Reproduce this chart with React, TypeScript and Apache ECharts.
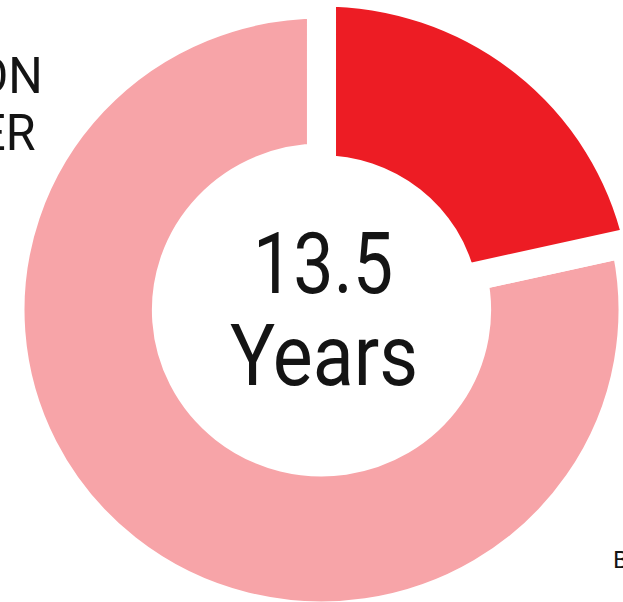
import React, { useEffect, useRef } from "react";
import * as echarts from "echarts";

const categories = ["Highlighted", "Remainder"];
const values = [21.5, 78.5];
const colors = ["#ED1C24", "#F7A4A8"];
const centerLines = ["13.5", "Years"];
const leftFragments = ["ON", "ER"];
const cornerFragment = "B";

const FONT = 'Roboto, "Liberation Sans", sans-serif';

export default function App() {
  const ref = useRef<HTMLDivElement>(null);
  useEffect(() => {
    if (!ref.current) return;
    const chart = echarts.init(ref.current, undefined, { renderer: "svg" });
    const cx = 321.5;
    const cy = 310;
    const gap = 28.5;
    const transparent = "rgba(0,0,0,0)";
    const mkData = (visibleIdx: number) =>
      categories.map((name, i) => ({
        name,
        value: values[i],
        itemStyle:
          i === visibleIdx
            ? { color: colors[i], borderColor: "#ffffff", borderWidth: gap }
            : { color: transparent, borderWidth: 0 },
      }));
    const txt = (text: string, x: number, y: number, size: number, align: string, sx = 1) => ({
      type: "text",
      x,
      y,
      scaleX: sx,
      style: { text, fontSize: size, fontFamily: FONT, fontWeight: 400, fill: "#141414", align, verticalAlign: "middle" },
    });
    chart.setOption({
      animation: false,
      backgroundColor: "#ffffff",
      series: [
        {
          type: "pie",
          center: [cx, cy],
          radius: [152.2, 305.7],
          startAngle: 90,
          clockwise: true,
          silent: true,
          label: { show: false },
          labelLine: { show: false },
          emphasis: { disabled: true },
          data: mkData(1),
        },
        {
          type: "pie",
          center: [cx, cy],
          radius: [140.6, 317.8],
          startAngle: 90,
          clockwise: true,
          silent: true,
          label: { show: false },
          labelLine: { show: false },
          emphasis: { disabled: true },
          data: mkData(0),
        },
      ],
      graphic: [
        txt(centerLines[0], cx + 1.5, 263.6, 86, "center", 0.82),
        txt(centerLines[1], cx + 2.5, 355.6, 86, "center", 0.86),
        txt(leftFragments[0], 48, 75.6, 50, "right", 0.95),
        txt(leftFragments[1], 41, 132.9, 50, "right", 0.95),
        txt(cornerFragment, 607.5, 560, 24, "left"),
      ],
    });
    return () => chart.dispose();
  }, []);
  return (
    <div style={{ position: "fixed", left: 0, top: 0, width: 623, height: 602, overflow: "hidden", background: "#fff" }}>
      <div
        ref={ref}
        style={{ width: 623, height: 602, transform: "scaleX(1.019)", transformOrigin: "321.5px 310px" }}
      />
    </div>
  );
}
